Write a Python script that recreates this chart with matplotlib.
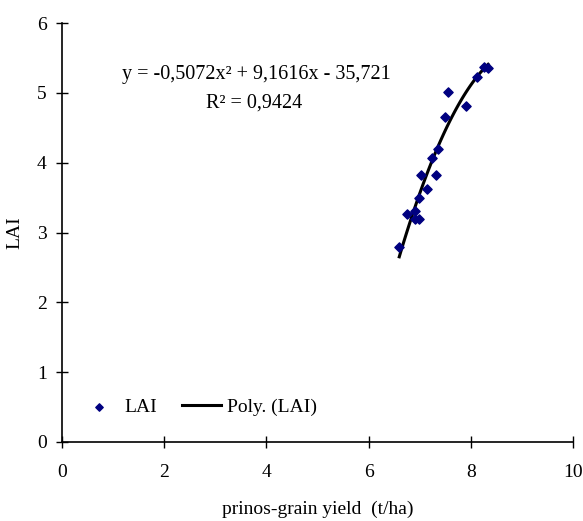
import numpy as np
import matplotlib.pyplot as plt

plt.rcParams['font.family'] = ['Liberation Serif', 'DejaVu Serif']

# grain yield (t/ha) vs LAI
yield_t = [6.60, 6.75, 6.91, 6.91, 6.99, 6.99, 7.14, 7.02, 7.31, 7.24, 7.35,
           7.50, 7.55, 7.91, 8.12, 8.26, 8.34]
lai = [2.79, 3.26, 3.31, 3.20, 3.20, 3.49, 3.63, 3.83, 3.83, 4.06, 4.20,
       4.66, 5.01, 4.81, 5.22, 5.37, 5.36]

# trendline as printed on the chart
coef = [-0.5072, 9.1616, -35.721]

fig = plt.figure(figsize=(5.83, 5.21), dpi=100)
ax = fig.add_axes([62/583, 1 - 442/521, (573-62)/583, (442-23)/521])

ax.scatter(yield_t, lai, marker='D', s=22, color='#000080', label='LAI', zorder=3)
xs = np.linspace(min(yield_t), max(yield_t), 100)
ax.plot(xs, np.polyval(coef, xs), color='black', lw=2.2, label='Poly. (LAI)', zorder=2)

ax.set_xlim(0, 10)
ax.set_ylim(0, 6)
ax.set_xticks(range(0, 11, 2))
ax.set_yticks(range(0, 7))
ax.spines['top'].set_visible(False)
ax.spines['right'].set_visible(False)
ax.spines['left'].set_linewidth(1.2)
ax.spines['bottom'].set_linewidth(1.2)
ax.tick_params(direction='inout', length=8, width=1, labelsize=14)
ax.tick_params(axis='x', pad=12)
ax.tick_params(axis='y', pad=7)

ax.set_xlabel('prinos-grain yield  (t/ha)', fontsize=14, labelpad=14)
ax.set_ylabel('LAI', fontsize=14, labelpad=10)

ax.text(3.8, 5.26, 'y = -0,5072x² + 9,1616x - 35,721', fontsize=14.5, ha='center', va='center')
ax.text(3.75, 4.86, 'R² = 0,9424', fontsize=14.5, ha='center', va='center')

ax.legend(loc='lower left', bbox_to_anchor=(0.0, 0.02), ncol=2, frameon=False,
          fontsize=14, handlelength=2.0, columnspacing=1.3, handletextpad=0.3,
          markerscale=0.8)

fig.savefig('out.png', dpi=100)
